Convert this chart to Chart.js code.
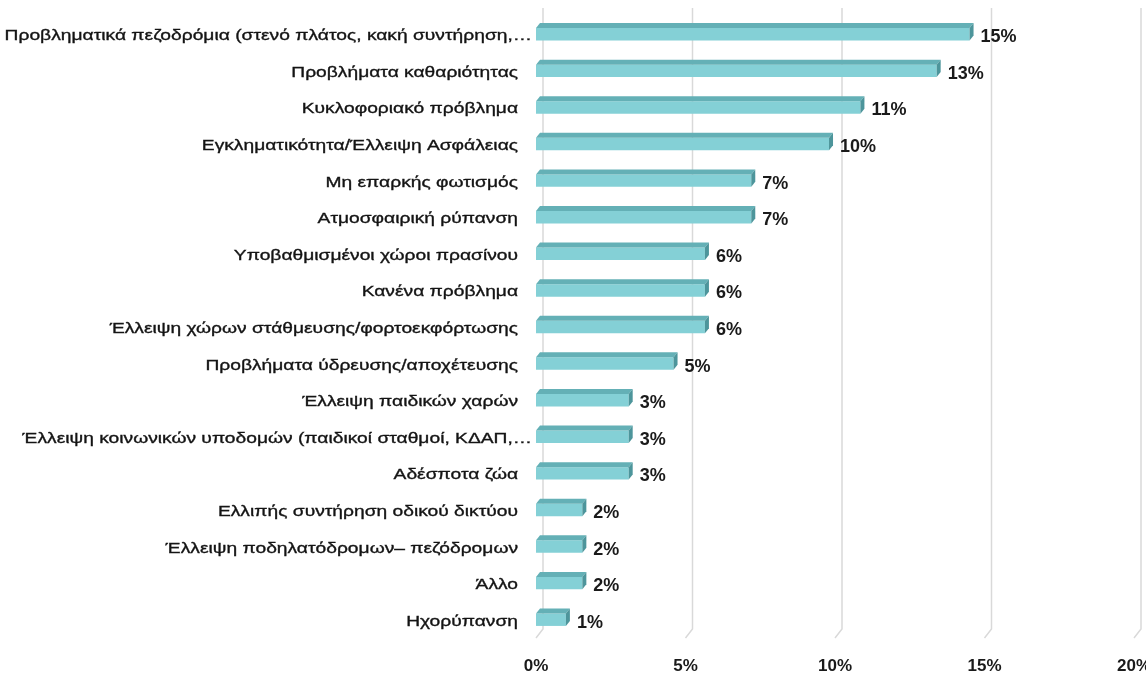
<!DOCTYPE html>
<html>
<head>
<meta charset="utf-8">
<script src="https://cdn.jsdelivr.net/npm/chart.js@4"></script>
<style>
html,body{margin:0;padding:0;background:#fff}
#wrap{width:1146px;height:673px}
</style>
</head>
<body>
<div id="wrap"><canvas id="c" width="1146" height="673"></canvas></div>
<script>
const categories=[
"Προβληματικά πεζοδρόμια (στενό πλάτος, κακή συντήρηση,…",
"Προβλήματα καθαριότητας",
"Κυκλοφοριακό πρόβλημα",
"Εγκληματικότητα/Έλλειψη Ασφάλειας",
"Μη επαρκής φωτισμός",
"Ατμοσφαιρική ρύπανση",
"Υποβαθμισμένοι χώροι πρασίνου",
"Κανένα πρόβλημα",
"Έλλειψη χώρων στάθμευσης/φορτοεκφόρτωσης",
"Προβλήματα ύδρευσης/αποχέτευσης",
"Έλλειψη παιδικών χαρών",
"Έλλειψη κοινωνικών υποδομών (παιδικοί σταθμοί, ΚΔΑΠ,…",
"Αδέσποτα ζώα",
"Ελλιπής συντήρηση οδικού δικτύου",
"Έλλειψη ποδηλατόδρομων– πεζόδρομων",
"Άλλο",
"Ηχορύπανση"
]
const shares=[14.5,13.4,10.85,9.8,7.2,7.2,5.65,5.65,5.65,4.6,3.1,3.1,3.1,1.55,1.55,1.55,1.0]
const xTicks=[0,5,10,15,20]

// depth of the back wall and of each bar
const wallDx=7,wallDy=9
const barDx=4,barDy=5

const pct=v=>Math.round(v)+"%"

const pseudo3d={
id:"pseudo3d",
beforeDatasetsDraw(chart){
const {ctx,chartArea:a,scales:{x}}=chart
ctx.save()
ctx.strokeStyle="#d9d9d9"
ctx.lineWidth=1.5
xTicks.forEach(v=>{
const px=x.getPixelForValue(v)
ctx.beginPath()
ctx.moveTo(px+wallDx,a.top-wallDy+1)
ctx.lineTo(px+wallDx,a.bottom-wallDy)
ctx.lineTo(px,a.bottom)
ctx.stroke()
})
// tick labels under the floor
ctx.fillStyle="#1a1a1a"
ctx.font="bold 17px 'Liberation Sans', Arial"
ctx.textAlign="center"
ctx.textBaseline="alphabetic"
xTicks.forEach(v=>ctx.fillText(v+"%",x.getPixelForValue(v),671))
ctx.restore()
},
afterDatasetsDraw(chart){
const {ctx,scales:{y}}=chart
const meta=chart.getDatasetMeta(0)
ctx.save()
meta.data.forEach((bar,i)=>{
const h=bar.height,top=bar.y-h/2,bot=bar.y+h/2
// top face
ctx.fillStyle="#64b0b6"
ctx.beginPath()
ctx.moveTo(bar.base,top)
ctx.lineTo(bar.x,top)
ctx.lineTo(bar.x+barDx,top-barDy)
ctx.lineTo(bar.base+barDx,top-barDy)
ctx.closePath()
ctx.fill()
// side face
ctx.fillStyle="#4d959b"
ctx.beginPath()
ctx.moveTo(bar.x,top)
ctx.lineTo(bar.x+barDx,top-barDy)
ctx.lineTo(bar.x+barDx,bot-barDy)
ctx.lineTo(bar.x,bot)
ctx.closePath()
ctx.fill()
// value label
ctx.fillStyle="#1a1a1a"
ctx.font="bold 18px 'Liberation Sans', Arial"
ctx.textAlign="left"
ctx.textBaseline="alphabetic"
ctx.fillText(pct(shares[i]),bar.x+barDx+7,bar.y+8)
})
// category labels, set a little wide and heavy
ctx.fillStyle="#141414"
ctx.strokeStyle="#141414"
ctx.lineWidth=0.35
ctx.font="15.5px 'Liberation Sans', Arial"
ctx.textAlign="right"
categories.forEach((c,i)=>{
const py=y.getPixelForValue(i)
const right=c.endsWith("…")?532:518
ctx.save()
ctx.translate(right,py+6)
ctx.scale(1.24,1)
ctx.fillText(c,0,0)
ctx.strokeText(c,0,0)
ctx.restore()
})
ctx.restore()
}
}

new Chart(document.getElementById("c"),{
type:"bar",
data:{labels:categories,datasets:[{
data:shares,
backgroundColor:"#84d0d6",
borderWidth:0,
barPercentage:0.34,
categoryPercentage:1
}]},
options:{
indexAxis:"y",
responsive:false,
animation:false,
layout:{padding:{left:536,right:12,top:16,bottom:35}},
plugins:{legend:{display:false},tooltip:{enabled:false}},
scales:{
x:{display:false,min:0,max:20},
y:{display:false}
}
},
plugins:[pseudo3d]
})
</script>
</body>
</html>
